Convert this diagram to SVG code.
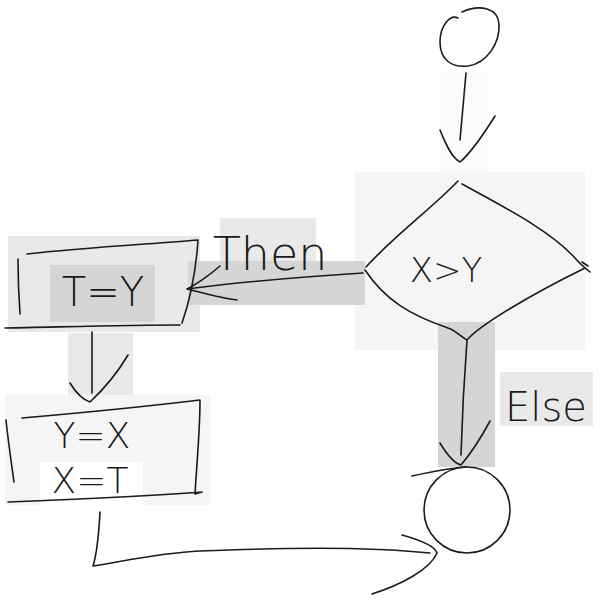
<svg xmlns="http://www.w3.org/2000/svg" width="600" height="600" viewBox="0 0 600 600">
<style>
.ink{fill:none;stroke:#1a1a1a;stroke-width:1.6;stroke-linecap:round;stroke-linejoin:round}
.lbl{font-family:"DejaVu Sans","Liberation Sans",sans-serif;font-weight:200;fill:#1a1a1a;text-anchor:middle}
.g1{fill:#d5d5d5}
.g2{fill:#e9e9e9}
.g3{fill:#f5f5f5}
</style>
<rect width="600" height="600" fill="#ffffff"/>
<g id="backgrounds">
<rect fill="#fbfbfb" x="440" y="72" width="48" height="108"/>
<rect class="g3" x="355" y="172" width="230" height="178"/>
<rect class="g2" x="8" y="236" width="192" height="96"/>
<rect class="g1" x="50" y="265" width="105" height="57"/>
<rect class="g2" x="220" y="218" width="96" height="44"/>
<rect class="g1" x="188" y="261" width="177" height="44"/>
<rect class="g1" x="438" y="322" width="57" height="145"/>
<rect class="g2" x="500" y="372" width="93" height="54"/>
<rect class="g2" x="68" y="333" width="65" height="69"/>
<rect class="g3" x="5" y="395" width="205" height="110"/>
<rect fill="#ffffff" x="40" y="462" width="103" height="43"/>
</g>
<g id="start">
<path class="ink" d="M458,18 C450,14 440,26 440,42 C440,60 452,68 468,66 C488,63 500,42 499,24 C498,8 480,4 462,12"/>
</g>
<g id="decision">
<path class="ink" d="M458,181 C430,210 395,235 366,267 M462,184 C500,205 550,230 575,258 C580,264 585,268 590,272 M582,262 L588,266 M365,270 C385,300 410,315 448,328 C455,330 458,335 467,340 C480,325 530,295 585,268"/>
<text class="lbl" x="446" y="282" font-size="34">X&gt;Y</text>
</g>
<g id="assignT">
<path class="ink" d="M27,254 C80,248 150,244 198,240 C196,270 190,300 182,323 M18,259 C18,280 19,300 20,314 M5,328 C60,327 130,325 180,325"/>
<text class="lbl" x="103" y="306" font-size="40">T=Y</text>
</g>
<g id="swap">
<path class="ink" d="M22,418 C80,413 150,406 200,400 C200,430 197,460 195,494 L202,492 M6,420 C8,440 11,460 14,482 M8,502 C60,500 150,496 202,492"/>
<text class="lbl" x="92" y="448" font-size="36">Y=X</text>
<text class="lbl" x="90" y="493" font-size="36">X=T</text>
</g>
<g id="end">
<circle class="ink" cx="467" cy="510" r="43"/>
<path class="ink" d="M412,476 C430,472 448,468 467,467"/>
</g>
<g id="connectors">
<path class="ink" d="M466,73 L460,140 M440,130 C446,145 452,158 460,162 C472,152 485,132 495,116"/>
<path class="ink" d="M363,273 C300,277 240,282 187,289 M220,266 C210,275 195,285 187,289 C200,292 220,298 237,300"/>
<text class="lbl" x="270" y="270" font-size="46">Then</text>
<path class="ink" d="M92,332 L92,393 M70,383 C76,393 84,400 90,402 C105,388 118,372 128,355"/>
<path class="ink" d="M467,340 C464,380 462,420 461,455 M440,443 C446,453 453,463 461,465 C472,452 482,436 490,421"/>
<text class="lbl" x="546" y="421" font-size="40">Else</text>
<path class="ink" d="M100,512 C99,530 98,550 93,566 C130,560 160,553 200,551 C280,548 360,546 430,553 M402,535 C420,540 435,546 437,553 C430,570 400,585 372,594"/>
</g>
</svg>
